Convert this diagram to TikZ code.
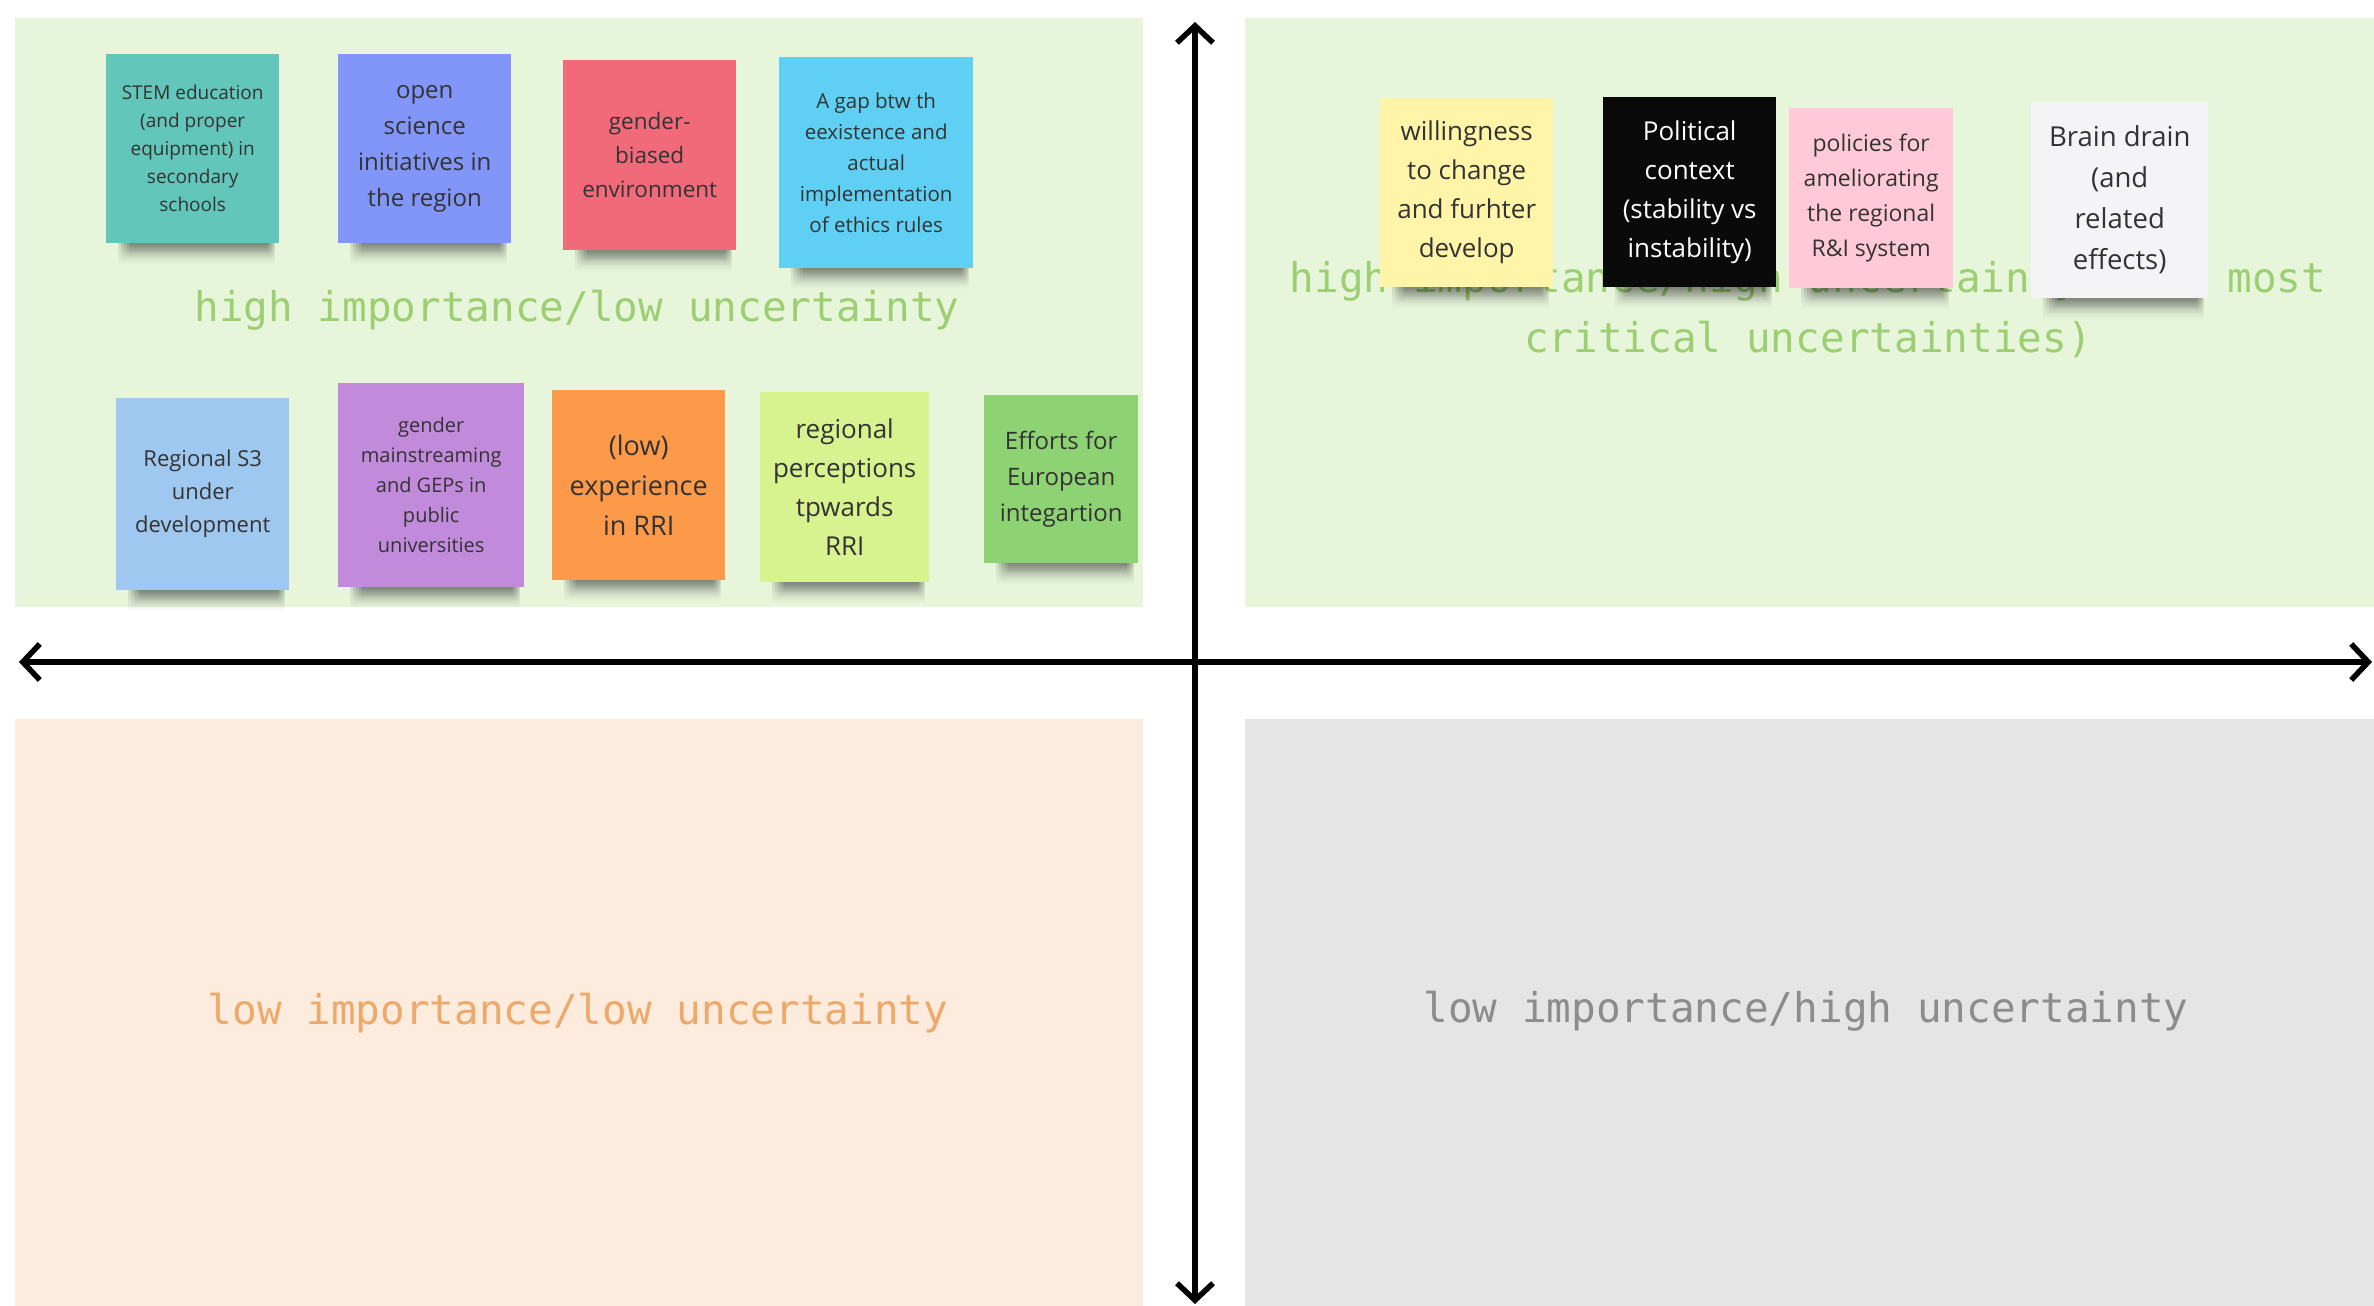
\documentclass[tikz,border=0pt]{standalone}
\usepackage{fontspec}
\newfontfamily\notefont{Open Sans}
\newfontfamily\lblfont{DejaVu Sans Mono}
\usetikzlibrary{arrows.meta,fadings}
\definecolor{qgreen}{HTML}{E7F5DB}
\definecolor{qpeach}{HTML}{FDECDD}
\definecolor{qgrey}{HTML}{E5E5E5}
\definecolor{lgreen}{HTML}{9CCF72}
\definecolor{lpeach}{HTML}{EDA96A}
\definecolor{lgrey}{HTML}{8C8C8C}
\definecolor{notetxt}{HTML}{333333}
\definecolor{cteal}{HTML}{62C6BA}
\definecolor{cperi}{HTML}{8196F8}
\definecolor{cred}{HTML}{F06A7A}
\definecolor{csky}{HTML}{5FD0F3}
\definecolor{clblue}{HTML}{9FC8F0}
\definecolor{cpurple}{HTML}{C28ADB}
\definecolor{corange}{HTML}{FC9A4A}
\definecolor{clime}{HTML}{D7F28E}
\definecolor{cgreen}{HTML}{8ED373}
\definecolor{cyellow}{HTML}{FFF4A8}
\definecolor{cblack}{HTML}{0A0A0A}
\definecolor{cpink}{HTML}{FFC9D9}
\definecolor{cwhite}{HTML}{F4F4F6}
\newcommand{\noteshadow}[1]{%
  \foreach \s in {0,3,6,9,12}{%
    \fill[black,opacity=0.11,path fading=south]
      ([xshift={(12+\s)*1pt}]#1.south west) rectangle ([xshift={(-4-\s*0.6)*1pt},yshift={(-22+\s)*1pt}]#1.south east);}}
\newcommand{\nfs}[2]{\notefont\fontsize{#1}{#2}\selectfont}
\begin{document}
\begin{tikzpicture}[x=1pt,y=-1pt,
  note/.style={anchor=north west, inner sep=0pt, align=center, text=notetxt},
  quadlabel/.style={inner sep=0pt, align=center, font=\lblfont\fontsize{41}{60}\selectfont},
  axis/.style={line width=5.5pt, {Straight Barb[length=17pt,width=36pt]}-{Straight Barb[length=17pt,width=36pt]}}
]
\useasboundingbox (0,0) rectangle (2374,1306);
\fill[white] (0,0) rectangle (2374,1306);
% quadrants
\fill[qgreen] (15,18) rectangle (1143,607);
\fill[qgreen] (1245,18) rectangle (2374,607);
\fill[qpeach] (15,719) rectangle (1143,1306);
\fill[qgrey] (1245,719) rectangle (2374,1306);
% axes
\coordinate (xl) at (19,662);
\coordinate (xr) at (2372,662);
\coordinate (yt) at (1195,22);
\coordinate (yb) at (1195,1304);
\draw[axis] (xl) -- (xr);
\draw[axis] (yt) -- (yb);
% quadrant labels
\node[quadlabel, text=lgreen] (lhl) at (577,310) {high importance/low uncertainty};
\node[quadlabel, text=lgreen] (lhh) at (1808,310) {high importance/high uncertainty (the most\\critical uncertainties)};
\node[quadlabel, text=lpeach] (lll) at (578,1013) {low importance/low uncertainty};
\node[quadlabel, text=lgrey] (llh) at (1806,1011) {low importance/high uncertainty};
% notes top-left
\node[note, fill=cteal, minimum width=173pt, minimum height=189pt, font=\nfs{19}{28}] (n1) at (106,54) {STEM education\\(and proper\\equipment) in\\secondary\\schools};
\node[note, fill=cperi, minimum width=173pt, minimum height=189pt, font=\nfs{24}{36}] (n2) at (338,54) {open\\science\\initiatives in\\the region};
\node[note, fill=cred, minimum width=173pt, minimum height=190pt, font=\nfs{22.5}{34}] (n3) at (563,60) {gender-\\biased\\environment};
\node[note, fill=csky, minimum width=194pt, minimum height=211pt, font=\nfs{20.5}{31}] (n4) at (779,57) {A gap btw th\\eexistence and\\actual\\implementation\\of ethics rules};
\node[note, fill=clblue, minimum width=173pt, minimum height=192pt, font=\nfs{22}{33}] (n5) at (116,398) {Regional S3\\under\\development};
\node[note, fill=cpurple, minimum width=186pt, minimum height=204pt, font=\nfs{20}{30}] (n6) at (338,383) {gender\\mainstreaming\\and GEPs in\\public\\universities};
\node[note, fill=corange, minimum width=173pt, minimum height=190pt, font=\nfs{27}{40}] (n7) at (552,390) {(low)\\experience\\in RRI};
\node[note, fill=clime, minimum width=169pt, minimum height=190pt, font=\nfs{26}{39}] (n8) at (760,392) {regional\\perceptions\\tpwards\\RRI};
\node[note, fill=cgreen, minimum width=154pt, minimum height=168pt, font=\nfs{24}{36}] (n9) at (984,395) {Efforts for\\European\\integartion};
% notes top-right
\node[note, fill=cyellow, minimum width=173pt, minimum height=189pt, font=\nfs{26}{39}] (n10) at (1380,98) {willingness\\to change\\and furhter\\develop};
\node[note, fill=cblack, text=white, minimum width=173pt, minimum height=190pt, font=\nfs{26}{39}] (n11) at (1603,97) {Political\\context\\(stability vs\\instability)};
\node[note, fill=cpink, minimum width=164pt, minimum height=180pt, font=\nfs{23}{35}] (n12) at (1789,108) {policies for\\ameliorating\\the regional\\R\&I system};
\node[note, fill=cwhite, minimum width=177pt, minimum height=196pt, font=\nfs{27.5}{41}] (n13) at (2031,102) {Brain drain\\(and\\related\\effects)};
% shadows
\noteshadow{n1}\noteshadow{n2}\noteshadow{n3}\noteshadow{n4}
\noteshadow{n5}\noteshadow{n6}\noteshadow{n7}\noteshadow{n8}\noteshadow{n9}
\noteshadow{n10}\noteshadow{n11}\noteshadow{n12}\noteshadow{n13}
\end{tikzpicture}
\end{document}
